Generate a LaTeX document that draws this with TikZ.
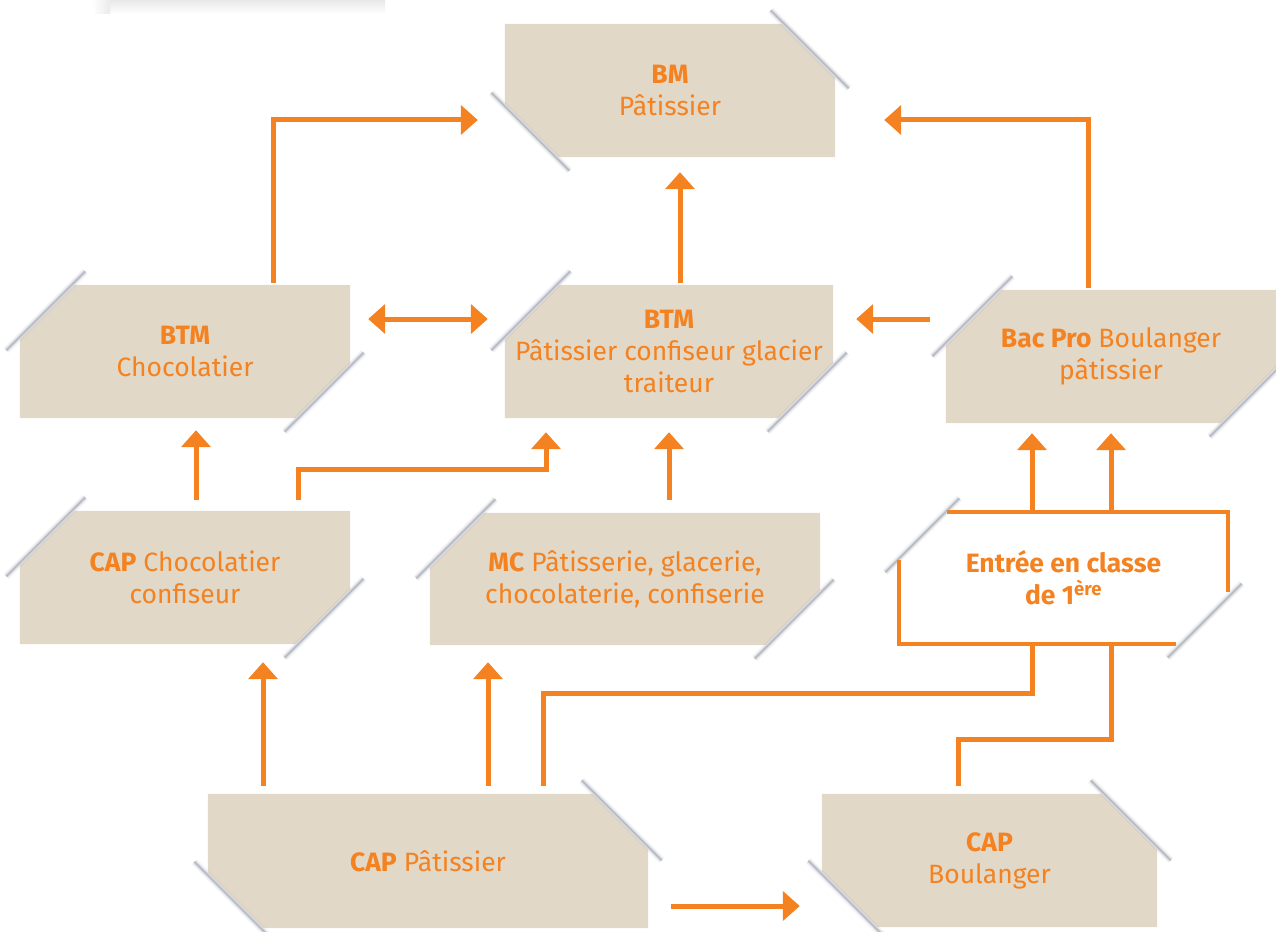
\documentclass[tikz,border=0pt]{standalone}
\usepackage{fontspec}
\setmainfont{Fira Sans}
\usetikzlibrary{calc,arrows.meta}
\definecolor{org}{RGB}{244,130,32}
\definecolor{bge}{RGB}{226,216,199}
\definecolor{shd}{RGB}{140,146,160}
\pgfdeclarelayer{bg}
\pgfsetlayers{bg,main}
\tikzset{
  box/.style={inner sep=0pt, text=org, align=center, font=\fontsize{26.5}{32}\selectfont},
  arr/.style={draw=org, line width=5pt, -{Triangle[width=29pt,length=17pt]}},
  darr/.style={draw=org, line width=5pt, {Triangle[width=29pt,length=17pt]}-{Triangle[width=29pt,length=17pt]}},
  lnk/.style={draw=org, line width=5pt},
}
\newcommand\shdline[2]{%
  \draw[shd,opacity=0.10,line width=7pt] #1 -- #2;
  \draw[shd,opacity=0.22,line width=4pt] #1 -- #2;
  \draw[shd,opacity=0.45,line width=1.8pt] #1 -- #2;
}
% type B: cuts at top-left and bottom-right
\newcommand\pbxB[3][1]{%
  \begin{pgfonlayer}{bg}
  \ifnum#1=1
  \fill[bge] ($(#2.north west)+(0,#3)$) -- ($(#2.north west)+(#3,0)$) -- (#2.north east)
    -- ($(#2.south east)+(0,-#3)$) -- ($(#2.south east)+(-#3,0)$) -- (#2.south west) -- cycle;
  \fi
  \shdline{($(#2.north west)+(-13.5,#3+10.5)$)}{($(#2.north west)+(#3+10.5,-13.5)$)}
  \shdline{($(#2.south east)+(-#3-10.5,13.5)$)}{($(#2.south east)+(13.5,-#3-10.5)$)}
  \end{pgfonlayer}}
% type A: cuts at top-right and bottom-left
\newcommand\pbxA[2]{%
  \begin{pgfonlayer}{bg}
  \fill[bge] (#1.north west) -- ($(#1.north east)+(-#2,0)$) -- ($(#1.north east)+(0,#2)$)
    -- (#1.south east) -- ($(#1.south west)+(#2,0)$) -- ($(#1.south west)+(0,-#2)$) -- cycle;
  \shdline{($(#1.north east)+(-#2-10.5,-13.5)$)}{($(#1.north east)+(13.5,#2+10.5)$)}
  \shdline{($(#1.south west)+(-13.5,-#2-10.5)$)}{($(#1.south west)+(#2+10.5,13.5)$)}
  \end{pgfonlayer}}
\begin{document}
\begin{tikzpicture}[x=1pt,y=-1pt]
\useasboundingbox (0,0) rectangle (1276,931);
% faint shadow at top left
\shade[top color=black!9, bottom color=white] (110,0) rectangle (385,14);
\shade[left color=white, right color=black!8] (92,0) rectangle (110,14);

% nodes
\node[box,minimum width=330pt,minimum height=133pt] (bm) at (670,90.5) {\textbf{BM}\\Pâtissier};
\node[box,minimum width=330pt,minimum height=133pt] (btmc) at (185,351.5) {\textbf{BTM}\\Chocolatier};
\node[box,minimum width=328pt,minimum height=133pt] (btmp) at (669,351.5) {\textbf{BTM}\\Pâtissier confiseur glacier\\traiteur};
\node[box,minimum width=330pt,minimum height=133pt] (bac) at (1111,356.5) {\textbf{Bac Pro} Boulanger\\pâtissier};
\node[box,minimum width=330pt,minimum height=133pt] (capc) at (185,577.5) {\textbf{CAP} Chocolatier\\confiseur};
\node[box,minimum width=390pt,minimum height=132pt] (mc) at (625,579) {\textbf{MC} Pâtisserie, glacerie,\\chocolaterie, confiserie};
\node[box,minimum width=329pt,minimum height=132pt] (ent) at (1063.5,578) {\textbf{Entrée en classe}\\\textbf{de 1\textsuperscript{ère}}};
\node[box,minimum width=440pt,minimum height=134pt] (capp) at (428,861) {\textbf{CAP} Pâtissier};
\node[box,minimum width=335pt,minimum height=133pt] (capb) at (989.5,860.5) {\textbf{CAP}\\Boulanger};

% box shapes
\pbxA{bm}{54}
\pbxB{btmc}{55}
\pbxB{btmp}{55}
\pbxB{bac}{56}
\pbxB{capc}{55}
\pbxB{mc}{55}
\pbxB[0]{ent}{50}
\pbxA{capp}{56}
\pbxA{capb}{56}
% outline of Entrée box
\draw[org,line width=4pt] ($(ent.north west)+(48,0)$) -- (ent.north east) -- ($(ent.south east)+(0,-52)$);
\draw[org,line width=4pt] ($(ent.south east)+(-52,0)$) -- (ent.south west) -- ($(ent.north west)+(0,48)$);

% connectors
\draw[arr] ($(btmc.north)+(88,-2)$) |- ($(bm.west)+(-27,29.5)$);
\draw[arr] ($(btmp.north)+(11,-2)$) -- ($(bm.south)+(10,15)$);
\draw[arr] ($(bac.north)+(-23,-2)$) |- ($(bm.east)+(49,29.5)$);
\draw[darr] ($(btmc.east)+(18,-32.5)$) -- ($(btmp.west)+(-17,-32.5)$);
\draw[arr] ($(bac.west)+(-16,-37.5)$) -- ($(btmp.east)+(23,-32.5)$);
\draw[arr] ($(capc.north)+(11,-11)$) -- ($(btmc.south)+(11,12)$);
\draw[arr] ($(capc.north)+(113,-11)$) -- ++(0,-30) -| ($(btmp.south)+(-123,14)$);
\draw[arr] ($(mc.north)+(44,-13)$) -- ($(btmp.south)+(0,14)$);
\draw[arr] ($(ent.north)+(-31.5,0)$) -- ($(bac.south)+(-79,10)$);
\draw[arr] ($(ent.north)+(47.5,0)$) -- ($(bac.south)+(0,10)$);
\draw[arr] ($(capp.north)+(-165,-8)$) -- ($(capc.south)+(78,18)$);
\draw[arr] ($(capp.north)+(60,-8)$) -- ($(mc.south)+(-137,17)$);
\draw[lnk] ($(capp.north)+(115,-8)$) |- ($(ent.south)+(-31.5,49)$) -- ($(ent.south)+(-31.5,0)$);
\draw[lnk] ($(capb.north)+(-31.5,-8)$) |- ($(ent.south)+(47.5,95)$) -- ($(ent.south)+(47.5,0)$);
\draw[arr] ($(capp.east)+(23,45)$) -- ($(capb.west)+(-22,45.5)$);
\end{tikzpicture}
\end{document}
